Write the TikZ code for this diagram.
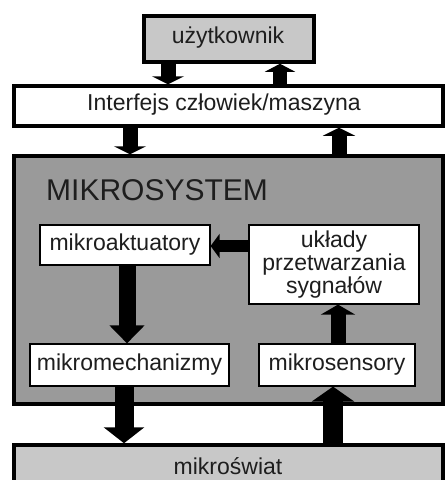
\documentclass[tikz,border=0pt]{standalone}
\usepackage{fontspec}
\setmainfont{Liberation Sans}
\usetikzlibrary{arrows.meta}
\definecolor{txt}{HTML}{1E1E1E}
\definecolor{darkfill}{HTML}{9A9A9A}
\definecolor{lightfill}{HTML}{C8C8C8}
\tikzset{
  outerbox/.style={draw=black, line width=3.5pt, inner sep=0pt, text=txt, font=\fontsize{23}{21}\selectfont},
  innerbox/.style={draw=black, line width=1.2pt, fill=white, inner sep=0pt, text=txt, align=center, font=\fontsize{23}{21}\selectfont},
  fat/.style n args={3}{line width=#1, -{Triangle[width=#2,length=#3]}},
}
\begin{document}
\begin{tikzpicture}[x=1pt,y=-1pt]
\useasboundingbox (0,0) rectangle (445,480);
\begin{scope}
\clip (0,0) rectangle (445,480);
% outer boxes
\node[outerbox, fill=lightfill, minimum width=170pt, minimum height=46pt] (user) at (229,39) {};
\node[text=txt, font=\fontsize{23}{21}\selectfont] (usert) at (228,38) {użytkownik};
\node[outerbox, fill=white, minimum width=429pt, minimum height=40pt] (iface) at (228.5,106) {};
\node[text=txt, font=\fontsize{23}{21}\selectfont] (ifacet) at (224,105) {Interfejs człowiek/maszyna};
\node[outerbox, fill=darkfill, minimum width=429pt, minimum height=248pt] (msys) at (228.5,280) {};
\node[anchor=west, text=txt, font=\fontsize{30}{30}\selectfont, inner sep=0pt] (msyst) at (46,190) {MIKROSYSTEM};
\node[outerbox, fill=lightfill, minimum width=429pt, minimum height=60pt] (world) at (228.5,475) {};
\node[text=txt, font=\fontsize{23}{21}\selectfont] (worldt) at (228,466) {mikroświat};
% inner boxes
\node[innerbox, minimum width=170pt, minimum height=40pt] (akt) at (125,245) {mikroaktuatory};
\node[innerbox, minimum width=170pt, minimum height=79pt] (ukl) at (334,264.5) {układy\\przetwarzania\\sygnałów};
\node[innerbox, minimum width=199pt, minimum height=42pt] (mech) at (129.5,365) {mikromechanizmy};
\node[innerbox, minimum width=156pt, minimum height=42pt] (sens) at (337,365) {mikrosensory};
% x positions
\coordinate (x1) at (168,0);
\coordinate (x2) at (280,0);
\coordinate (x3) at (130,0);
\coordinate (x4) at (339,0);
\coordinate (x6) at (127,0);
\coordinate (x7) at (338,0);
\coordinate (x8) at (124,0);
\coordinate (x9) at (333,0);
\coordinate (y5) at (0,246);
% arrows
\draw[fat={15pt}{32pt}{8pt}] (user.south -| x1) -- (iface.north -| x1);
\draw[fat={14pt}{30pt}{8pt}] (iface.north -| x2) -- (user.south -| x2);
\draw[fat={15pt}{32pt}{8pt}] (iface.south -| x3) -- (msys.north -| x3);
\draw[fat={15pt}{32pt}{8pt}] (msys.north -| x4) -- (iface.south -| x4);
\draw[fat={12pt}{24pt}{9pt}] (ukl.west |- y5) -- (akt.east |- y5);
\draw[fat={17pt}{34pt}{18pt}] (akt.south -| x6) -- (mech.north -| x6);
\draw[fat={15pt}{34pt}{10pt}] (sens.north -| x7) -- (ukl.south -| x7);
\draw[fat={19pt}{40pt}{16pt}] (mech.south -| x8) -- (world.north -| x8);
\draw[fat={20pt}{42pt}{15pt}] (world.north -| x9) -- (sens.south -| x9);
\end{scope}
\end{tikzpicture}
\end{document}
